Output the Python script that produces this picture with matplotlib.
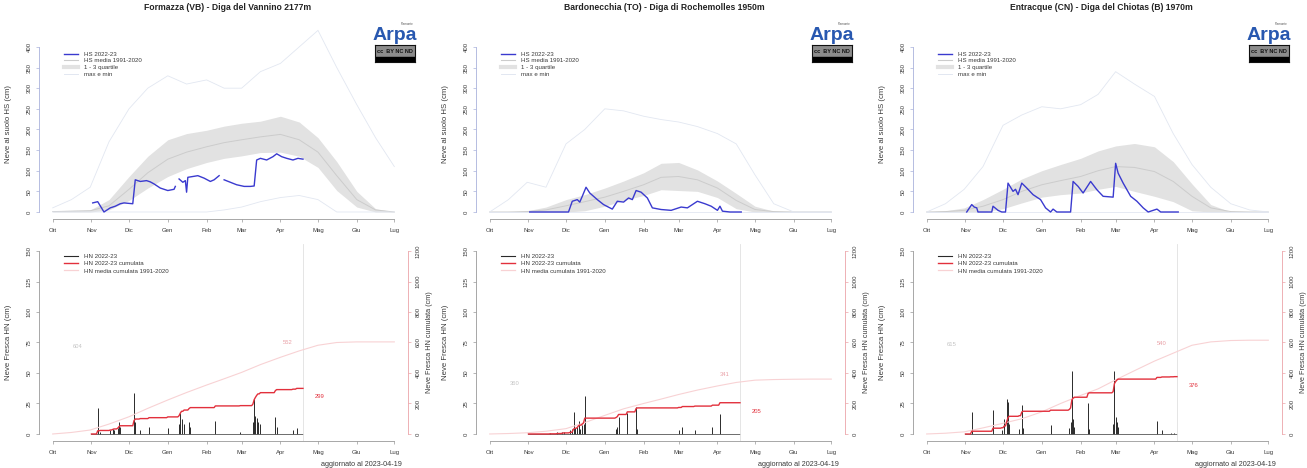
import numpy as np
import matplotlib
matplotlib.use('Agg')
import matplotlib.pyplot as plt
from matplotlib.lines import Line2D

plt.rcParams['font.family'] = ['Liberation Sans', 'DejaVu Sans']

#---------------------------------------------------------
# data (days counted from 1 October 2022)
#---------------------------------------------------------

MONTHS = ['Ott', 'Nov', 'Dic', 'Gen', 'Feb', 'Mar', 'Apr', 'Mag', 'Giu', 'Lug']
MONTH_DAYS = [0, 31, 61, 92, 123, 151, 182, 212, 243, 273]
GRID = [0, 15, 30, 45, 61, 76, 92, 107, 123, 137, 151, 166, 182, 197, 212, 227, 243, 258, 273]
UPDATE_DAY = 200
UPDATE_TXT = 'aggiornato al 2023-04-19'

TITLES = ['Formazza (VB) - Diga del Vannino 2177m',
          'Bardonecchia (TO) - Diga di Rochemolles 1950m',
          'Entracque (CN) - Diga del Chiotas (B) 1970m']

# Formazza
hs_formazza = [(32, 22), (36, 25), (41, 0), (46, 10), (50, 14), (54, 20), (57, 22), (64, 20), (66, 78),
               (70, 74), (75, 76), (78, 73), (81, 68), (86, 58), (92, 52), (97, 55), (98, 62), (99, None),
               (101, 80), (104, 72), (106, 76), (107, 48), (108, 84), (112, 86), (116, 88), (121, 82),
               (126, 74), (129, 78), (133, 88), (134, None), (137, 78), (142, 72), (147, 66), (153, 62),
               (158, 62), (161, 63), (163, 126), (166, 130), (171, 126), (176, 134), (179, 141),
               (183, 134), (187, 130), (192, 126), (196, 130), (200, 128)]
q1_formazza = [0, 0, 0, 5, 28, 58, 86, 105, 120, 130, 136, 144, 145, 135, 108, 52, 12, 0, 0]
q3_formazza = [3, 4, 5, 30, 86, 135, 175, 190, 198, 208, 215, 220, 232, 218, 180, 122, 50, 8, 0]
mean_formazza = [1, 2, 3, 15, 55, 95, 128, 145, 158, 168, 175, 182, 188, 175, 145, 88, 30, 5, 0]
max_formazza = [10, 30, 60, 170, 250, 300, 330, 310, 320, 300, 300, 340, 360, 400, 440, 350, 260, 180, 110]
min_formazza = [0, 0, 0, 0, 0, 0, 0, 0, 0, 5, 12, 25, 35, 40, 30, 0, 0, 0, 0]
hn_formazza = [(36, 21), (38, 2), (46, 3), (48, 4), (49, 3), (52, 5), (53, 10), (54, 6), (65, 34), (66, 10),
               (70, 3), (77, 6), (92, 5), (101, 8), (102, 17), (103, 12), (105, 8), (109, 10), (110, 6),
               (130, 11), (150, 2), (160, 10), (161, 29), (162, 15), (163, 13), (164, 10), (166, 8),
               (178, 14), (179, 6), (192, 3), (195, 5)]
cum_mean_formazza = [0, 10, 26, 65, 113, 168, 223, 272, 321, 362, 404, 455, 503, 545, 582, 600, 604, 604, 604]

# Bardonecchia
hs_bardonecchia = [(32, 0), (63, 0), (66, 26), (70, 30), (72, 24), (74, 38), (77, 60), (80, 46), (86, 30),
                   (91, 18), (98, 7), (102, 26), (107, 24), (111, 34), (114, 30), (117, 52), (121, 48),
                   (126, 34), (130, 10), (137, 6), (145, 4), (153, 12), (158, 10), (166, 26), (172, 20),
                   (177, 14), (182, 4), (184, 14), (186, 2), (192, 0), (201, 0)]
q1_bardonecchia = [0, 0, 0, 0, 0, 3, 14, 28, 40, 54, 52, 50, 35, 8, 0, 0, 0, 0, 0]
q3_bardonecchia = [0, 0, 3, 12, 30, 42, 58, 75, 95, 118, 120, 102, 75, 45, 14, 2, 0, 0, 0]
mean_bardonecchia = [0, 0, 1, 5, 15, 25, 36, 50, 66, 84, 86, 78, 58, 28, 6, 1, 0, 0, 0]
max_bardonecchia = [0, 30, 72, 60, 165, 200, 250, 245, 232, 224, 218, 207, 190, 165, 90, 20, 0, 0, 0]
min_bardonecchia = [0] * 19
hn_bardonecchia = [(48, 1), (54, 2), (58, 2), (59, 2), (64, 3), (66, 4), (67, 18), (68, 5), (70, 6), (71, 11),
                   (72, 4), (74, 7), (75, 8), (76, 31), (101, 4), (102, 6), (103, 14), (110, 17), (117, 22),
                   (118, 4), (151, 3), (154, 6), (164, 3), (178, 6), (184, 16)]
cum_mean_bardonecchia = [0, 3, 8, 18, 35, 75, 122, 165, 200, 229, 259, 288, 315, 338, 353, 357, 359, 360, 360]

# Entracque
hs_entracque = [(32, 0), (36, 18), (38, 12), (40, 10), (41, 0), (52, 0), (53, 14), (57, 4), (60, 0), (63, 0),
                (65, 70), (69, 50), (71, 55), (73, 42), (76, 70), (80, 58), (85, 42), (91, 30), (95, 10),
                (99, 0), (101, 7), (104, 0), (115, 0), (117, 74), (121, 62), (125, 46), (131, 74), (136, 54),
                (141, 38), (149, 36), (151, 118), (153, 94), (157, 70), (163, 38), (168, 26), (173, 10),
                (177, 0), (184, 7), (187, 0), (201, 0)]
q1_entracque = [0, 0, 0, 0, 8, 22, 36, 42, 46, 55, 62, 50, 38, 25, 3, 0, 0, 0, 0]
q3_entracque = [0, 3, 10, 30, 55, 80, 100, 115, 130, 148, 160, 166, 158, 122, 68, 18, 0, 0, 0]
mean_entracque = [0, 1, 4, 14, 30, 50, 66, 76, 86, 100, 110, 108, 98, 74, 38, 10, 1, 0, 0]
max_entracque = [0, 20, 55, 110, 210, 235, 255, 250, 260, 285, 340, 310, 280, 190, 115, 60, 20, 5, 0]
min_entracque = [0] * 19
hn_entracque = [(36, 18), (53, 20), (60, 3), (62, 12), (64, 29), (65, 26), (66, 8), (74, 4), (76, 24), (77, 5),
                (99, 7), (114, 5), (115, 10), (116, 52), (117, 12), (118, 6), (129, 25), (130, 4), (149, 8),
                (150, 52), (151, 14), (152, 10), (153, 6), (184, 11), (188, 3), (195, 1), (198, 1)]
cum_mean_entracque = [0, 5, 14, 40, 70, 100, 145, 200, 253, 296, 355, 415, 478, 530, 582, 604, 613, 615, 615]

stations = [
    (hs_formazza, q1_formazza, q3_formazza, mean_formazza, max_formazza, min_formazza, hn_formazza, cum_mean_formazza),
    (hs_bardonecchia, q1_bardonecchia, q3_bardonecchia, mean_bardonecchia, max_bardonecchia, min_bardonecchia,
     hn_bardonecchia, cum_mean_bardonecchia),
    (hs_entracque, q1_entracque, q3_entracque, mean_entracque, max_entracque, min_entracque, hn_entracque,
     cum_mean_entracque),
]

#---------------------------------------------------------
# colours / layout (pixels of a 1307x468 figure)
#---------------------------------------------------------

W, H = 1307, 468
C_HS = '#3a3acf'
C_BAND = '#e2e2e2'
C_MEAN = '#cccccc'
C_MAX = '#e2e7f1'
C_RED = '#e2303c'
C_PINK = '#f8d2d4'
C_TXT = '#3a3a3a'
LEFTS = [39, 476, 913]
PW = 369
FS = 4.3
FS_LAB = 5.6
FS_LEG = 4.4


def fig_rect(x0, y_top, w, h):
    return [x0 / W, 1 - (y_top + h) / H, w / W, h / H]


def style_xaxis(ax):
    ax.set_xlim(-0.04 * 273, 1.04 * 273)
    ax.set_xticks(MONTH_DAYS)
    ax.set_xticklabels(MONTHS)
    ax.spines['bottom'].set_bounds(0, 273)
    ax.spines['bottom'].set_color('#999999')
    ax.spines['bottom'].set_linewidth(0.6)
    ax.tick_params(axis='x', length=2.5, width=0.5, colors='#999999', labelcolor=C_TXT, labelsize=FS, pad=4)


fig = plt.figure(figsize=(W / 100, H / 100), dpi=100)

for i, (hs, q1, q3, mean, mx, mn, hn, cum_mean) in enumerate(stations):
    left = LEFTS[i]

    #---------------- top: snow depth ----------------
    ax = fig.add_axes(fig_rect(left, 18, PW, 200.6))
    ax.fill_between(GRID, q1, q3, color=C_BAND, lw=0)
    ax.plot(GRID, mean, color=C_MEAN, lw=0.7)
    ax.plot(GRID, mx, color=C_MAX, lw=0.6)
    ax.plot(GRID, mn, color=C_MAX, lw=0.6)
    hs_d = np.array([p[0] for p in hs], dtype=float)
    hs_v = np.array([np.nan if p[1] is None else p[1] for p in hs], dtype=float)
    ax.plot(hs_d, hs_v, color=C_HS, lw=1.0)

    ax.set_ylim(-16, 470)
    for s in ['top', 'right']:
        ax.spines[s].set_visible(False)
    style_xaxis(ax)
    ax.set_yticks(range(0, 401, 50))
    ax.spines['left'].set_bounds(0, 400)
    ax.spines['left'].set_color('#aab2dc')
    ax.spines['left'].set_linewidth(0.6)
    ax.tick_params(axis='y', length=2.5, width=0.5, colors='#aab2dc', labelcolor=C_TXT, labelsize=FS, pad=3)
    plt.setp(ax.get_yticklabels(), rotation=90, va='center')
    ax.set_ylabel('Neve al suolo HS (cm)', fontsize=FS_LAB, color=C_TXT)
    ax.yaxis.set_label_coords(-27 / PW, 0.47)
    ax.patch.set_alpha(0)

    handles = [Line2D([], [], color=C_HS, lw=1.0), Line2D([], [], color=C_MEAN, lw=0.8),
               Line2D([], [], color=C_BAND, lw=3), Line2D([], [], color=C_MAX, lw=0.7)]
    ax.legend(handles, ['HS 2022-23', 'HS media 1991-2020', '1 - 3 quartile', 'max e min'],
              loc='upper left', bbox_to_anchor=(0.06, 0.845), fontsize=FS_LEG, frameon=False,
              handlelength=2.4, labelspacing=0.22, handletextpad=0.9, borderaxespad=0, labelcolor=C_TXT)

    #---------------- bottom: fresh snow ----------------
    ax2 = fig.add_axes(fig_rect(left, 243.7, PW, 197.6))
    ax3 = ax2.twinx()
    hn_d = [p[0] for p in hn]
    hn_v = [p[1] for p in hn]
    ax2.vlines(hn_d, 0, hn_v, color='#2a2a2a', lw=0.7)
    ax2.plot([31, UPDATE_DAY], [0, 0], color='#555555', lw=0.6)
    ax2.axvline(UPDATE_DAY, color='#e0e0e0', lw=0.6)

    days = np.arange(31, UPDATE_DAY + 1)
    daily = np.zeros(len(days))
    for d, v in hn:
        daily[d - 31] += v
    cum = np.cumsum(daily)
    ax3.plot(GRID, cum_mean, color=C_PINK, lw=0.8)
    ax3.plot(days, cum, color=C_RED, lw=1.0)

    mean_now = np.interp(UPDATE_DAY, GRID, cum_mean)
    ax3.text(UPDATE_DAY - 12, mean_now + 50, '%d' % round(mean_now), color='#e9a0a6', fontsize=4.2,
             ha='center', va='center')
    ax3.text(UPDATE_DAY + 13, cum[-1] - 55, '%d' % round(cum[-1]), color=C_RED, fontsize=4.2,
             ha='center', va='center')
    ax3.text(20, cum_mean[-1] - 30, '%d' % cum_mean[-1], color='#c4c4c4', fontsize=4.2,
             ha='center', va='center')

    ax2.set_ylim(-6, 156)
    ax3.set_ylim(-48, 1248)
    for a in (ax2, ax3):
        a.spines['top'].set_visible(False)
    ax2.spines['right'].set_visible(False)
    ax3.spines['left'].set_visible(False)
    ax3.spines['bottom'].set_visible(False)
    style_xaxis(ax2)
    ax2.set_yticks(range(0, 151, 25))
    ax2.spines['left'].set_bounds(0, 150)
    ax2.spines['left'].set_color('#999999')
    ax2.spines['left'].set_linewidth(0.6)
    ax2.tick_params(axis='y', length=2.5, width=0.5, colors='#999999', labelcolor=C_TXT, labelsize=FS, pad=3)
    plt.setp(ax2.get_yticklabels(), rotation=90, va='center')
    ax2.set_ylabel('Neve Fresca HN (cm)', fontsize=FS_LAB, color=C_TXT)
    ax2.yaxis.set_label_coords(-27 / PW, 0.5)

    ax3.set_yticks(range(0, 1201, 200))
    ax3.spines['right'].set_bounds(0, 1200)
    ax3.spines['right'].set_color('#eba4a8')
    ax3.spines['right'].set_linewidth(0.6)
    ax3.tick_params(axis='y', length=2.5, width=0.5, colors='#eba4a8', labelcolor=C_TXT, labelsize=FS, pad=3)
    plt.setp(ax3.get_yticklabels(), rotation=90, va='center')
    ax3.set_ylabel('Neve Fresca HN cumulata (cm)', fontsize=5.2, color=C_TXT)
    ax3.yaxis.set_label_coords(1 + 18 / PW, 0.5)

    handles = [Line2D([], [], color='#2a2a2a', lw=0.8), Line2D([], [], color=C_RED, lw=1.0),
               Line2D([], [], color=C_PINK, lw=0.9)]
    ax2.legend(handles, ['HN 2022-23', 'HN 2022-23 cumulata', 'HN media cumulata 1991-2020'],
               loc='upper left', bbox_to_anchor=(0.06, 0.96), fontsize=FS_LEG, frameon=False,
               handlelength=2.4, labelspacing=0.3, handletextpad=0.9, borderaxespad=0, labelcolor=C_TXT)

    fig.text((left + PW - 6) / W, 1 - 464 / H, UPDATE_TXT, ha='right', va='center', fontsize=5.2, color=C_TXT)

    #---------------- title and logos ----------------
    fig.text((left + PW / 2 + 4) / W, 1 - 8 / H, TITLES[i], ha='center', va='center', fontsize=6.2,
             fontweight='bold', color='#222222')
    lx = left + PW - 13
    fig.text(lx / W, 1 - 35 / H, 'Arpa', ha='center', va='center', fontsize=14, fontweight='bold',
             color='#2858b0')
    fig.text((lx + 12) / W, 1 - 24 / H, 'Piemonte', ha='center', va='center', fontsize=2.2, color='#555555')
    cc = fig.add_axes(fig_rect(lx - 20, 45, 40, 17))
    cc.set_facecolor('#8c8c8c')
    cc.set_xticks([])
    cc.set_yticks([])
    for s in cc.spines.values():
        s.set_color('#111111')
    cc.axhspan(0, 0.3, color='#000000')
    cc.text(0.5, 0.64, 'cc  BY NC ND', color='#111111', fontsize=4, ha='center', va='center',
            transform=cc.transAxes, fontweight='bold')
    cc.set_ylim(0, 1)

fig.savefig('out.png', dpi=100)
